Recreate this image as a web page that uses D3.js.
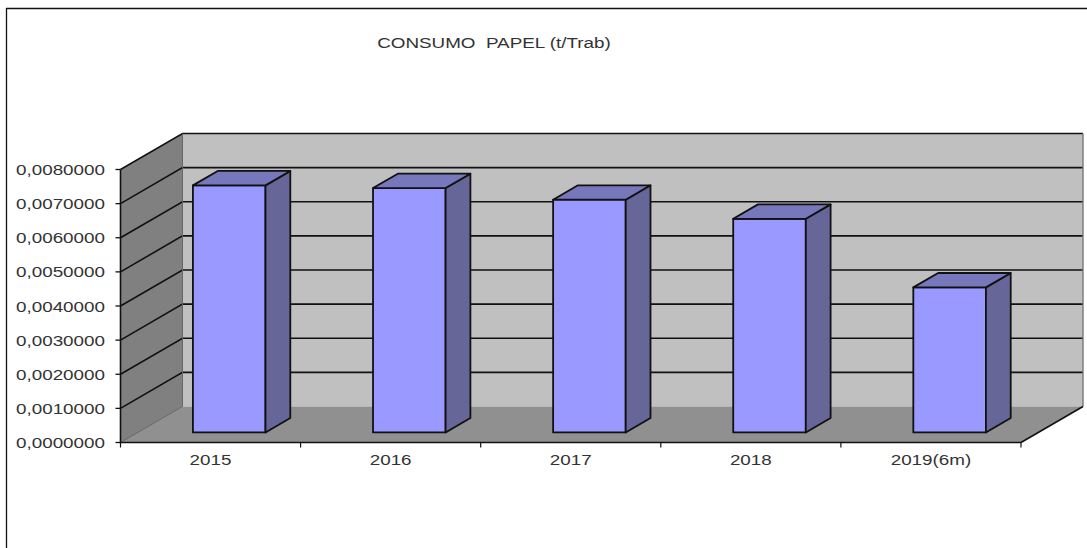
<!DOCTYPE html>
<html>
<head>
<meta charset="utf-8">
<script src="https://cdn.jsdelivr.net/npm/d3@7/dist/d3.min.js"></script>
<style>
html,body{margin:0;padding:0;background:#fff;}
svg{display:block;}
text{font-family:"Liberation Sans",Arial,sans-serif;fill:#333;}
</style>
</head>
<body>
<svg id="chart" width="1087" height="548"></svg>
<script>
const titleText = "CONSUMO\u00a0\u00a0PAPEL (t/Trab)";
const categories = ["2015","2016","2017","2018","2019(6m)"];
const values = [0.00724,0.00716,0.00682,0.00626,0.00425];
const ticks = [0,0.001,0.002,0.003,0.004,0.005,0.006,0.007,0.008];

const svg = d3.select("#chart");
const y = d3.scaleLinear().domain([0,0.008]).range([442.5,169.5]);
const x = d3.scaleBand().domain(categories).range([120.5,1021]);
const depth = {dx:62, dy:-36};
const barDepth = {near:0.28, far:0.68};
const barWidth = x.step()*0.403;
const barShift = 1.3;

// Oblique projection: category position + value + depth (0 front, 1 back)
const pt = (px,v,d)=>[px+depth.dx*d, y(v)+depth.dy*d];
const poly = pts => "M"+pts.map(p=>p.join(",")).join("L")+"Z";
const xL = x.range()[0], xR = x.range()[1], yMax = 0.008;

const stretch = 1.3;
function label(t,xp,yp,anchor,size){
  return svg.append("text").text(t)
    .attr("text-anchor",anchor)
    .attr("font-size",size)
    .attr("transform",`translate(${xp},${yp}) scale(${stretch},1)`);
}

// Outer frame
svg.append("path").attr("d","M6.5,548V8.5H1087").attr("fill","none").attr("stroke","#111").attr("stroke-width",1.3);

// Walls and floor
svg.append("path").attr("d",poly([pt(xL,0,1),pt(xR,0,1),pt(xR,yMax,1),pt(xL,yMax,1)])).attr("fill","#c0c0c0");
svg.append("path").attr("d",poly([pt(xL,0,0),pt(xL,0,1),pt(xL,yMax,1),pt(xL,yMax,0)])).attr("fill","#808080");
svg.append("path").attr("d",poly([pt(xL,0,0),pt(xR,0,0),pt(xR,0,1),pt(xL,0,1)])).attr("fill","#909090");

// Gridlines along the side and back walls
ticks.forEach(t=>{
  if(t>0){
    svg.append("path").attr("d",d3.line()([pt(xL,t,0),pt(xL,t,1),pt(xR,t,1)]))
      .attr("fill","none").attr("stroke","#111").attr("stroke-width",1.6);
  }
});
// Wall edges
svg.append("path").attr("d",d3.line()([pt(xR,0,1),pt(xR,yMax,1)])).attr("stroke","#777").attr("stroke-width",1.4).attr("fill","none");
svg.append("path").attr("d",d3.line()([pt(xL,0,1),pt(xL,yMax,1)])).attr("stroke","#666").attr("stroke-width",1).attr("fill","none");
svg.append("path").attr("d",d3.line()([pt(xL,0,0),pt(xL,0,1)])).attr("stroke","#555").attr("stroke-width",.8).attr("fill","none");
svg.append("path").attr("d",d3.line()([pt(xR,0,0),pt(xR,0,1)])).attr("stroke","#111").attr("stroke-width",1.6).attr("fill","none");

// Bars
const barStroke = {stroke:"#111","stroke-width":1.8,"stroke-linejoin":"round"};
categories.forEach((c,i)=>{
  const x0 = x(c)+x.bandwidth()/2 - barWidth/2 + barShift;
  const x1 = x0+barWidth, v = values[i], n = barDepth.near, f = barDepth.far;
  const faces = [
    {fill:"#9999ff",pts:[pt(x0,0,n),pt(x1,0,n),pt(x1,v,n),pt(x0,v,n)]},
    {fill:"#666699",pts:[pt(x1,0,n),pt(x1,0,f),pt(x1,v,f),pt(x1,v,n)]},
    {fill:"#7777bb",pts:[pt(x0,v,n),pt(x1,v,n),pt(x1,v,f),pt(x0,v,f)]}
  ];
  faces.forEach(fc=>{
    const s = svg.append("path").attr("d",poly(fc.pts)).attr("fill",fc.fill);
    Object.entries(barStroke).forEach(([k,val])=>s.attr(k,val));
  });
});

// Front axis lines with outward ticks
svg.append("path").attr("d",d3.line()([[xL,y(yMax)],[xL,y(0)],[xR,y(0)]])).attr("fill","none").attr("stroke","#111").attr("stroke-width",1.6);
ticks.forEach(t=>{
  svg.append("line").attr("x1",xL-5).attr("x2",xL).attr("y1",y(t)).attr("y2",y(t)).attr("stroke","#111").attr("stroke-width",1.3);
  label(d3.format(".7f")(t).replace(".",","),105,y(t)+5.5,"end",14.5);
});
d3.range(categories.length+1).forEach(i=>{
  const px = xL+i*x.step();
  svg.append("line").attr("x1",px).attr("x2",px).attr("y1",442.5).attr("y2",447.5).attr("stroke","#111").attr("stroke-width",1.2);
});
categories.forEach(c=>{
  label(c,x(c)+x.bandwidth()/2,465,"middle",14.5);
});

// Title
label(titleText,494,48,"middle",14.5);
</script>
</body>
</html>
